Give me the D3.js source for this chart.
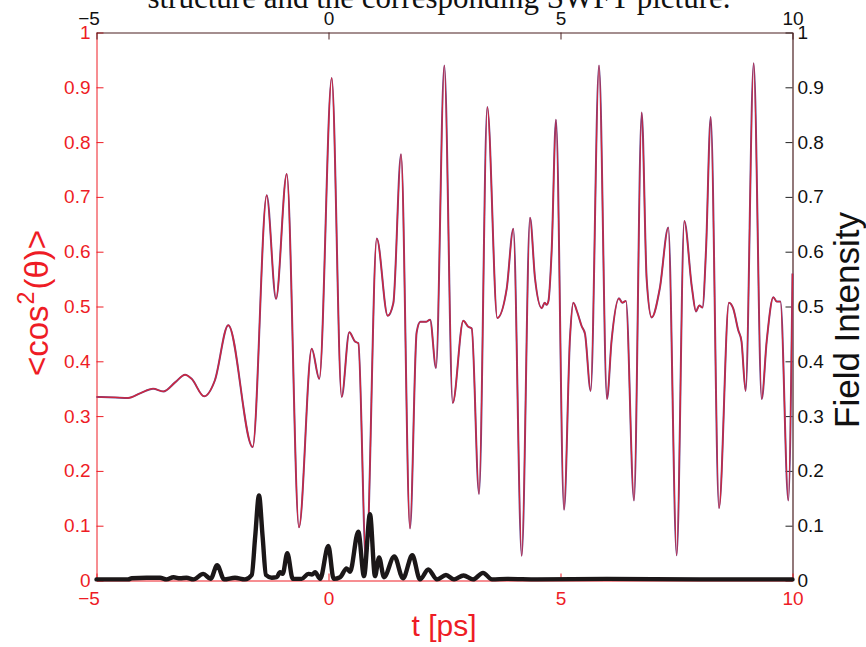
<!DOCTYPE html>
<html>
<head>
<meta charset="utf-8">
<script src="https://cdn.jsdelivr.net/npm/d3@7"></script>
<style>
  html, body { margin: 0; padding: 0; background: #ffffff; }
  svg { display: block; }
</style>
</head>
<body>
<svg id="chart" width="866" height="647"></svg>
<script>
// ---------- data ----------
const xTicks = [-5, 0, 5, 10];
const yTicks = [0, 0.1, 0.2, 0.3, 0.4, 0.5, 0.6, 0.7, 0.8, 0.9, 1];
const yTickLabels = ["0", "0.1", "0.2", "0.3", "0.4", "0.5", "0.6", "0.7", "0.8", "0.9", "1"];

// <cos^2(theta)> versus t [ps]
const cos2Time = [
  -5.00, -4.60, -4.32, -4.05, -3.78, -3.56, -3.30, -3.09, -2.95, -2.68, -2.45, -2.16,
  -1.634, -1.332, -1.131, -0.90, -0.636, -0.362, -0.198, 0.069, 0.284, 0.448, 0.571, 0.643,
  0.81, 1.04, 1.276, 1.397, 1.563, 1.757, 1.90, 1.98, 2.10, 2.19, 2.317, 2.496,
  2.677, 2.905, 3.013, 3.086, 3.244, 3.422, 3.638, 3.84, 3.983, 4.164, 4.343, 4.45,
  4.595, 4.66, 4.70, 4.74, 4.81, 4.903, 5.076, 5.205, 5.276, 5.36, 5.457, 5.528,
  5.65, 5.83, 6.002, 6.10, 6.26, 6.33, 6.41, 6.584, 6.75, 6.857, 6.965, 7.14,
  7.323, 7.504, 7.668, 7.83, 7.92, 7.99, 8.06, 8.136, 8.237, 8.416, 8.63, 8.72,
  8.83, 8.90, 8.99, 9.163, 9.336, 9.444, 9.587, 9.66, 9.74, 9.91, 10.0
];
const cos2Value = [
  0.335, 0.334, 0.333, 0.342, 0.350, 0.345, 0.362, 0.3755, 0.368, 0.336, 0.365, 0.466,
  0.2435, 0.703, 0.514, 0.742, 0.097, 0.423, 0.368, 0.917, 0.335, 0.453, 0.436, 0.433,
  0.030, 0.624, 0.483, 0.506, 0.778, 0.095, 0.453, 0.472, 0.472, 0.476, 0.388, 0.940,
  0.324, 0.474, 0.463, 0.460, 0.158, 0.864, 0.479, 0.532, 0.642, 0.045, 0.662, 0.552,
  0.497, 0.507, 0.503, 0.510, 0.603, 0.841, 0.129, 0.444, 0.507, 0.490, 0.464, 0.450,
  0.346, 0.940, 0.331, 0.437, 0.515, 0.507, 0.510, 0.146, 0.854, 0.550, 0.480, 0.533,
  0.644, 0.046, 0.656, 0.536, 0.491, 0.502, 0.498, 0.603, 0.846, 0.132, 0.507, 0.497,
  0.457, 0.437, 0.346, 0.944, 0.331, 0.437, 0.517, 0.509, 0.509, 0.146, 0.560
];

// Field intensity versus t [ps]
const fieldTime = [
  -5.00, -4.32, -4.24, -3.92, -3.63, -3.49, -3.34, -3.20, -3.06, -2.91, -2.70, -2.54,
  -2.40, -2.25, -2.015, -1.80, -1.655, -1.58, -1.498, -1.42, -1.347, -1.224, -1.116, -1.045,
  -0.987, -0.888, -0.77, -0.578, -0.435, -0.356, -0.29, -0.18, -0.004, 0.112, 0.25, 0.39,
  0.463, 0.642, 0.765, 0.894, 1.002, 1.09, 1.196, 1.418, 1.606, 1.806, 1.972, 2.15,
  2.338, 2.532, 2.705, 2.91, 3.115, 3.33, 3.524, 3.85, 4.5, 6.0, 8.0, 10.0
];
const fieldValue = [
  0.002, 0.002, 0.004, 0.005, 0.005, 0.002, 0.006, 0.004, 0.005, 0.002, 0.012, 0.003,
  0.028, 0.002, 0.005, 0.002, 0.010, 0.080, 0.155, 0.080, 0.010, 0.005, 0.006, 0.015,
  0.012, 0.050, 0.003, 0.003, 0.012, 0.011, 0.015, 0.003, 0.063, 0.003, 0.006, 0.022,
  0.016, 0.089, 0.008, 0.121, 0.008, 0.042, 0.006, 0.044, 0.004, 0.046, 0.002, 0.020,
  0.002, 0.010, 0.002, 0.009, 0.002, 0.014, 0.002, 0.003, 0.002, 0.003, 0.002, 0.002
];

// ---------- drawing ----------
const svg = d3.select("#chart");
const font = "'Liberation Sans', Arial, Helvetica, sans-serif";
const red = "#ee1c25";
const frame = "#4a1e20";

const x = d3.scaleLinear().domain([-5, 10]).range([96.5, 792.5]);
const y = d3.scaleLinear().domain([0, 1]).range([580.5, 32.5]);

// partially visible title (cut off at the top)
svg.append("text")
  .attr("x", 439).attr("y", 8)
  .attr("text-anchor", "middle")
  .attr("font-family", "'Liberation Serif', 'Times New Roman', serif")
  .attr("font-size", 31)
  .attr("fill", "#111")
  .text("structure and the corresponding SWFT picture.");

// axes
const fmtY = (d) => yTickLabels[yTicks.indexOf(d)];

const gLeft = svg.append("g").attr("transform", `translate(${x(-5)},0)`)
  .call(d3.axisLeft(y).tickValues(yTicks).tickFormat(fmtY).tickSize(-7).tickSizeOuter(0).tickPadding(6));
gLeft.selectAll("path, line").attr("stroke", red).attr("stroke-width", 1);
gLeft.selectAll("text").attr("fill", red).attr("font-family", font).attr("font-size", 19);

const gRight = svg.append("g").attr("transform", `translate(${x(10)},0)`)
  .call(d3.axisRight(y).tickValues(yTicks).tickFormat(fmtY).tickSize(-7).tickSizeOuter(0).tickPadding(5));
gRight.selectAll("path").attr("stroke", frame).attr("stroke-width", 1.2);
gRight.selectAll("line").attr("stroke", "#222").attr("stroke-width", 1);
gRight.selectAll("text").attr("fill", "#111").attr("font-family", font).attr("font-size", 19);

const gBottom = svg.append("g").attr("transform", `translate(0,${y(0)})`)
  .call(d3.axisBottom(x).tickValues(xTicks).tickSize(-7).tickSizeOuter(0).tickPadding(11));
gBottom.selectAll("path, line").attr("stroke", red).attr("stroke-width", 1);
gBottom.selectAll("text").attr("fill", red).attr("font-family", font).attr("font-size", 19)
  .attr("dx", (d) => d < 0 ? -8 : 0);

const gTop = svg.append("g").attr("transform", `translate(0,${y(1)})`)
  .call(d3.axisTop(x).tickValues(xTicks).tickSize(-7).tickSizeOuter(0).tickPadding(8));
gTop.selectAll("path").attr("stroke", frame).attr("stroke-width", 1.2);
gTop.selectAll("line").attr("stroke", frame).attr("stroke-width", 1);
gTop.selectAll("text").attr("fill", "#111").attr("font-family", font).attr("font-size", 19)
  .attr("dx", (d) => d < 0 ? -8 : 0);

// curves
const cos2Data = cos2Time.map((t, i) => [t, cos2Value[i]]);
const fieldData = fieldTime.map((t, i) => [t, fieldValue[i]]);
const line = d3.line().x((d) => x(d[0])).y((d) => y(d[1])).curve(d3.curveMonotoneX);

svg.append("path").datum(cos2Data)
  .attr("d", line).attr("fill", "none")
  .attr("stroke", "#6a4a8e").attr("stroke-width", 2).attr("stroke-linejoin", "round");
svg.append("path").datum(cos2Data)
  .attr("d", line).attr("fill", "none")
  .attr("stroke", red).attr("stroke-opacity", 0.8).attr("stroke-width", 1.3).attr("stroke-linejoin", "round");

svg.append("path").datum(fieldData)
  .attr("d", line).attr("fill", "none")
  .attr("stroke", "#1b1718").attr("stroke-width", 4.4)
  .attr("stroke-linejoin", "round").attr("stroke-linecap", "round");

// axis titles
svg.append("text")
  .attr("x", 444).attr("y", 636)
  .attr("text-anchor", "middle")
  .attr("font-family", font).attr("font-size", 30)
  .attr("fill", red)
  .text("t [ps]");

const yl = svg.append("text")
  .attr("transform", "translate(48,303) rotate(-90)")
  .attr("text-anchor", "middle")
  .attr("font-family", font).attr("font-size", 33)
  .attr("fill", red);
yl.append("tspan").text("<cos");
yl.append("tspan").attr("font-size", 23).attr("dy", -14).attr("dx", 1).text("2");
yl.append("tspan").attr("dy", 14).attr("dx", 2).text("(θ)>");

svg.append("text")
  .attr("transform", "translate(859,320) rotate(-90)")
  .attr("text-anchor", "middle")
  .attr("font-family", font).attr("font-size", 35)
  .attr("fill", "#111")
  .text("Field Intensity");
</script>
</body>
</html>
